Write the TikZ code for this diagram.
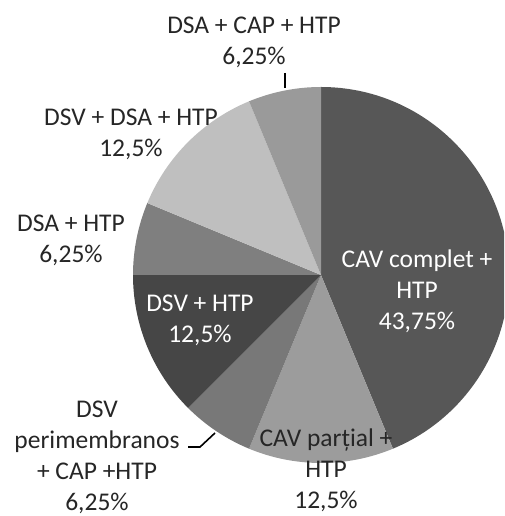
\documentclass[tikz,border=0pt]{standalone}
\usepackage{fontspec}
\setmainfont{Carlito}
\definecolor{cA}{HTML}{575757}
\definecolor{cB}{HTML}{9C9C9C}
\definecolor{cC}{HTML}{787878}
\definecolor{cD}{HTML}{464646}
\definecolor{cE}{HTML}{7F7F7F}
\definecolor{cF}{HTML}{BFBFBF}
\definecolor{cG}{HTML}{9A9A9A}
\tikzset{
  lbl/.style={align=center, inner sep=0pt, font=\fontsize{25.5}{31}\selectfont, text=black!85},
  wlbl/.style={lbl, text=white},
  leader/.style={draw=black, line width=1.6pt}
}
\begin{document}
\begin{tikzpicture}[x=1pt,y=1pt]
\useasboundingbox (0,0) rectangle (504,516);
\clip (0,0) rectangle (504,516);
\coordinate (c) at (321,241);
\def\R{188}
\fill[cA] (c) -- ++(90:\R) arc (90:-67.5:\R) -- cycle;
\fill[cB] (c) -- ++(-67.5:\R) arc (-67.5:-112.5:\R) -- cycle;
\fill[cC] (c) -- ++(-112.5:\R) arc (-112.5:-135:\R) -- cycle;
\fill[cD] (c) -- ++(-135:\R) arc (-135:-180:\R) -- cycle;
\fill[cE] (c) -- ++(180:\R) arc (180:157.5:\R) -- cycle;
\fill[cF] (c) -- ++(157.5:\R) arc (157.5:112.5:\R) -- cycle;
\fill[cG] (c) -- ++(112.5:\R) arc (112.5:90:\R) -- cycle;
\node[lbl] (lTop) at (254,473.5) {DSA + CAP + HTP\\6,25\%};
\node[lbl] (lDDH) at (131,382) {DSV + DSA + HTP\\12,5\%};
\node[lbl] (lDH) at (71,276) {DSA + HTP\\6,25\%};
\node[wlbl] (lDSV) at (200,195.5) {DSV + HTP\\12,5\%};
\node[wlbl] (lCAV) at (417,225) {CAV complet +\\HTP\\43,75\%};
\node[lbl] (lPer) at (97,58.5) {DSV\\perimembranos\\+ CAP +HTP\\6,25\%};
\node[lbl] (lPart) at (326,45.5) {CAV parțial +\\HTP\\12,5\%};
\coordinate (tTop1) at (285,443);
\coordinate (tTop2) at (285,428);
\draw[leader] (tTop1) -- (tTop2);
\coordinate (tPer1) at (188,69);
\coordinate (tPer2) at (200,69);
\coordinate (tPer3) at (215,83);
\draw[leader] (tPer1) -- (tPer2) -- (tPer3);
\end{tikzpicture}
\end{document}
